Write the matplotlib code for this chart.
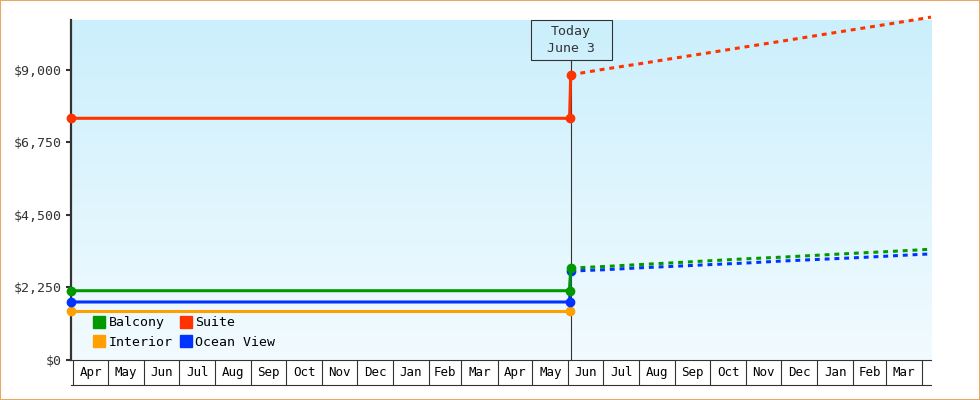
import numpy as np
import pandas as pd
import matplotlib
matplotlib.use("Agg")
import matplotlib.pyplot as plt
import matplotlib.dates as mdates
from matplotlib.lines import Line2D
from matplotlib.patches import Rectangle
from matplotlib.colors import LinearSegmentedColormap

plt.rcParams['font.family'] = ['DejaVu Sans Mono', 'DejaVu Sans']

# price history: flat from the first day up to the day before today
start_date = '2013-03-30'
last_hist_date = '2014-06-02'
today_date = '2014-06-03'
end_date = '2015-04-09'

cabins = ['Balcony', 'Interior', 'Suite', 'Ocean View']
colors = ['#009900', '#FFA000', '#FF3300', '#0033FF']
hist_price = [2150, 1520, 7500, 1800]

# forecast (dashed), starting today
fc_dates = ['2014-06-03', '2014-07-01', '2014-08-01', '2014-09-01', '2014-10-01',
            '2014-11-01', '2014-12-01', '2015-01-01', '2015-02-01', '2015-03-01',
            '2015-04-01', '2015-04-09']
balcony_fc = [2850, 2900, 2960, 3020, 3080, 3140, 3190, 3250, 3310, 3360, 3420, 3440]
suite_fc = [8850, 9020, 9190, 9370, 9540, 9720, 9890, 10070, 10250, 10410, 10590, 10640]
ocean_fc = [2760, 2800, 2860, 2910, 2960, 3010, 3070, 3120, 3170, 3220, 3280, 3290]
interior_fc = None
forecasts = [balcony_fc, interior_fc, suite_fc, ocean_fc]

yticks = [0, 2250, 4500, 6750, 9000]

txt = '#333333'
fig = plt.figure(figsize=(9.8, 4.0), dpi=100)
ax = fig.add_axes([71 / 980, 40 / 400, 860 / 980, 340 / 400])

# background gradient
cmap = LinearSegmentedColormap.from_list('bg', ['#CBEFFC', '#F2FBFF'])
ax.imshow(np.linspace(0, 1, 256).reshape(-1, 1), cmap=cmap, aspect='auto',
          extent=[0, 1, 0, 1], transform=ax.transAxes, zorder=0)

d0, d1 = pd.Timestamp(start_date), pd.Timestamp(last_hist_date)
dt = pd.Timestamp(today_date)
fcd = pd.to_datetime(fc_dates)

# today line
ax.plot([dt, dt], [0, 300 / 340], transform=ax.get_xaxis_transform(),
        color=txt, lw=0.8, zorder=1)

draw_order = [1, 3, 0, 2]
for i in draw_order:
    c = colors[i]
    fc = forecasts[i]
    if fc is None:
        xs, ys = [d0, d1], [hist_price[i]] * 2
    else:
        xs, ys = [d0, d1, dt], [hist_price[i], hist_price[i], fc[0]]
        ax.plot(fcd, fc, color=c, lw=2.2, dashes=(1.6, 1.6), clip_on=False, zorder=3)
    ax.plot(xs, ys, color=c, lw=2.2, marker='o', markersize=6, clip_on=False, zorder=4)

ax.set_xlim(pd.Timestamp(start_date), pd.Timestamp(end_date))
ax.set_ylim(0, 10550)

# y axis
ax.set_yticks(yticks)
ax.set_yticklabels(['${:,}'.format(v) for v in yticks])
ax.tick_params(axis='y', length=3.6, width=1.5, color=txt, labelcolor=txt,
               labelsize=9.5, pad=3)
for s in ['top', 'right']:
    ax.spines[s].set_visible(False)
ax.spines['left'].set_color(txt)
ax.spines['left'].set_linewidth(1.6)
ax.spines['bottom'].set_color(txt)
ax.spines['bottom'].set_linewidth(0.8)

# month cells under the plot, labels centred in each full month
month_starts = pd.date_range('2013-04-01', '2015-04-01', freq='MS')
mids = [a + (b - a) / 2 for a, b in zip(month_starts[:-1], month_starts[1:])]
ax.set_xticks(month_starts)
ax.set_xticklabels([])
ax.set_xticks(mids, minor=True)
ax.set_xticklabels([m.strftime('%b') for m in mids], minor=True)
ax.tick_params(axis='x', which='major', direction='out', length=18, width=0.8,
               color=txt)
ax.tick_params(axis='x', which='minor', length=0, pad=4, labelsize=9,
               labelcolor='black')
ax.plot([0, 1], [-25 / 340, -25 / 340], transform=ax.transAxes, color=txt,
        lw=0.8, clip_on=False)

# today label box
fig.canvas.draw()
xp = ax.transData.transform((mdates.date2num(dt), 0))[0]
fig.patches.append(Rectangle(((xp - 40) / 980, 340 / 400), 81 / 980, 40 / 400,
                             transform=fig.transFigure, fill=False,
                             edgecolor=txt, lw=0.8))
fig.text(xp / 980, 360 / 400, 'Today\nJune 3', ha='center', va='center',
         fontsize=9.5, color=txt, linespacing=1.4)

# legend
handles = [Line2D([], [], color=colors[i], marker='s', linestyle='none',
                  markersize=8) for i in range(4)]
ax.legend(handles, cabins, ncol=2, loc='lower left', bbox_to_anchor=(0.016, 0.005),
          frameon=False, fontsize=9.5, handlelength=0.8, handletextpad=0.3,
          columnspacing=0.6, labelspacing=0.5, borderpad=0.2)

# outer border
fig.patches.append(Rectangle((0, 0), 1, 1, transform=fig.transFigure, fill=False,
                             edgecolor='#E9A962', lw=1.5))

fig.savefig('out.png', dpi=100)
